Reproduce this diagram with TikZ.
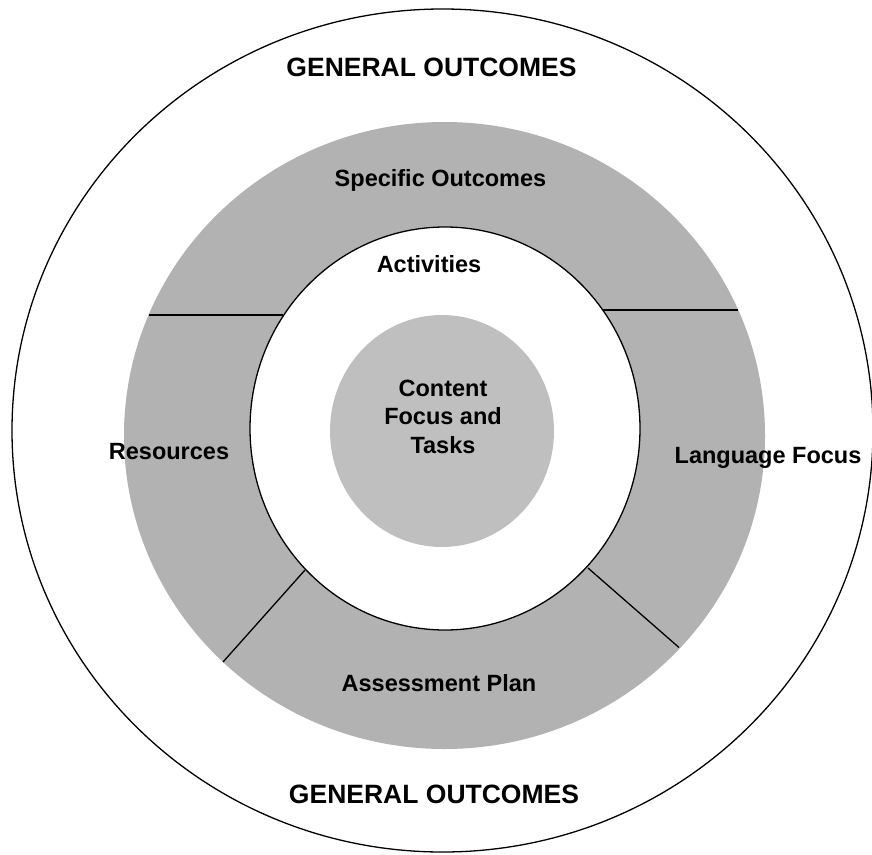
\documentclass[tikz,border=0pt]{standalone}
\usepackage{fontspec}
\setmainfont{Liberation Sans}
\begin{document}
\begin{tikzpicture}[x=1pt,y=-1pt,
  ln/.style={line width=1.3pt,black},
  lbl/.style={font=\fontsize{23.5}{29}\selectfont\bfseries,anchor=base,inner sep=0pt},
  big/.style={font=\fontsize{26.5}{32}\selectfont\bfseries,anchor=base,inner sep=0pt}]
\useasboundingbox (0,0) rectangle (872,854);
\fill[white] (0,0) rectangle (872,854);
% outer ellipse
\draw[ln] (442.5,430.5) ellipse [x radius=430.5, y radius=421.5];
% gray ring
\fill[black!30] (444.5,435.5) ellipse [x radius=320.5, y radius=313.5];
% dividers
\coordinate (ul1) at (283,315); \coordinate (ul2) at (148.6,315);
\coordinate (ur1) at (603,310); \coordinate (ur2) at (738.2,310);
\coordinate (ll1) at (305,570); \coordinate (ll2) at (223,662);
\coordinate (lr1) at (588,568); \coordinate (lr2) at (679,647.5);
\draw[ln] (ul1) -- (ul2);
\draw[ln] (ur1) -- (ur2);
\draw[ln] (ll1) -- (ll2);
\draw[ln] (lr1) -- (lr2);
% white inner ellipse
\filldraw[ln,fill=white] (445,428.5) ellipse [x radius=195, y radius=201.5];
% center gray
\fill[black!25] (442,431) ellipse [x radius=112, y radius=116];
% labels
\node[big] (g1) at (431.5,76) {GENERAL OUTCOMES};
\node[big] (g2) at (434,803) {GENERAL OUTCOMES};
\node[lbl] (so) at (440.5,186.7) {Specific Outcomes};
\node[lbl] (ac) at (429,272.7) {Activities};
\node[lbl] (c1) at (443,396) {Content};
\node[lbl] (c2) at (443,424.5) {Focus and};
\node[lbl] (c3) at (443,453.3) {Tasks};
\node[lbl] (rs) at (169,459.3) {Resources};
\node[lbl] (lf) at (768,463.3) {Language Focus};
\node[lbl] (ap) at (439,691) {Assessment Plan};
\end{tikzpicture}
\end{document}
